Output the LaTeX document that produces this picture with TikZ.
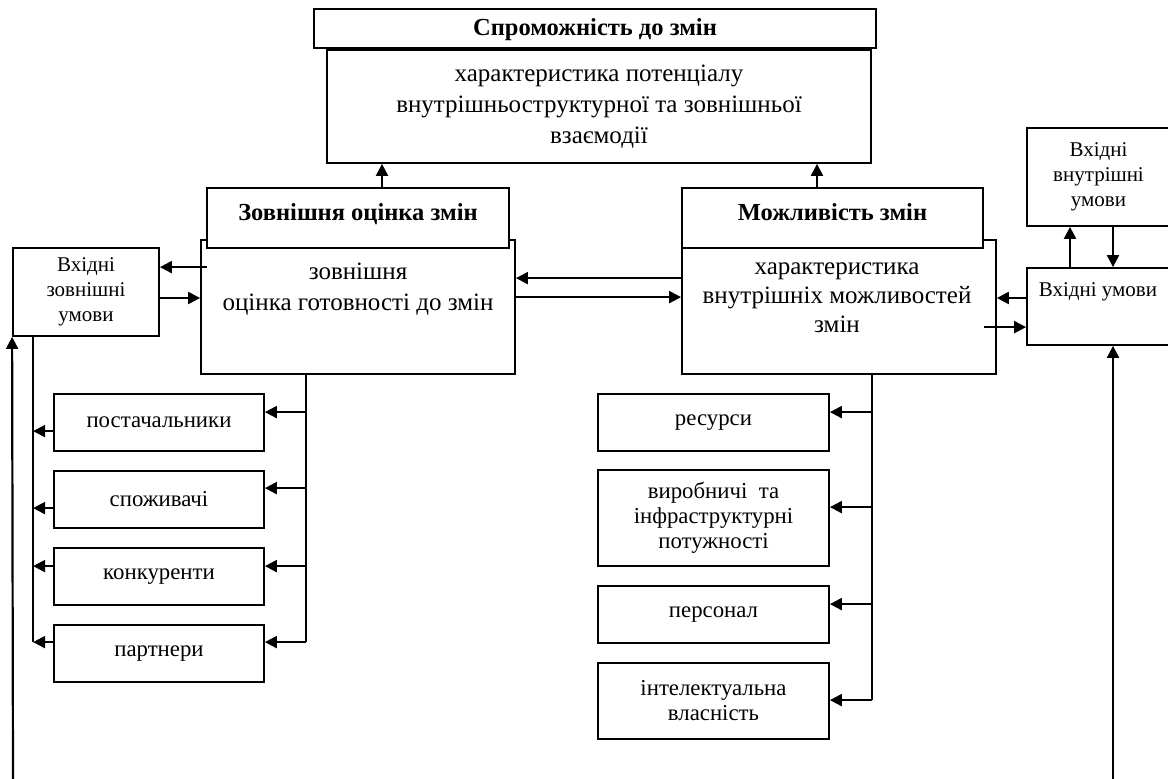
\documentclass[tikz,border=0pt]{standalone}
\usepackage{fontspec}
\setmainfont{Liberation Serif}
\usetikzlibrary{arrows.meta,calc}
\begin{document}
\begin{tikzpicture}[x=1pt,y=-1pt,
  box/.style={draw, line width=1.8pt, fill=white, inner sep=0pt, align=center},
  arr/.style={line width=2.2pt, -{Triangle[length=12pt,width=12pt]}},
  ln/.style={line width=2.2pt},
  big/.style={font=\fontsize{25}{31}\selectfont},
  ttl/.style={font=\bfseries\fontsize{24.5}{28}\selectfont, text height=17pt, text depth=13pt},
  sml/.style={font=\fontsize{21}{25}\selectfont},
  subt/.style={font=\fontsize{22.8}{25}\selectfont},
]
\useasboundingbox (0,0) rectangle (1168,779);

% top block
\node[box, big, minimum width=544pt, minimum height=113pt] (topB) at (599,106.5)
  {характеристика потенціалу\\внутрішньоструктурної та зовнішньої\\взаємодії};
\node[box, ttl, text depth=3pt, minimum width=562pt, minimum height=39pt] (topH) at (595,28.5) {Спроможність до змін};

% external block
\node[box, minimum width=314pt, minimum height=134pt] (extB) at (358,307) {};
\node[box, ttl, minimum width=302pt, minimum height=60pt] (extH) at (358,218) {Зовнішня оцінка змін};
\node[big, align=center, inner sep=0pt] (extT) at (358,289) {зовнішня\\оцінка готовності до змін};

% possibility block
\node[box, minimum width=314pt, minimum height=134pt] (posB) at (839,307) {};
\node[box, ttl, minimum width=301pt, minimum height=60pt] (posH) at (832.5,218) {Можливість змін};
\node[font=\fontsize{25}{29}\selectfont, align=center, inner sep=0pt] (posT) at (837,298)
  {характеристика\\внутрішніх можливостей\\змін};

% input boxes
\node[box, sml, minimum width=146pt, minimum height=88pt] (extIn) at (86,292) {Вхідні\\зовнішні\\умови};
\node[box, sml, minimum width=143pt, minimum height=98pt] (inIn) at (1098.5,177) {Вхідні\\внутрішні\\умови};
\node[box, minimum width=143pt, minimum height=77pt] (inC) at (1098.5,306.5) {};
\node[sml, inner sep=0pt] (inCT) at (1098,292) {Вхідні умови};

% left sub boxes
\node[box, subt, minimum width=210pt, minimum height=57pt] (L1) at (159,422.5) {постачальники};
\node[box, subt, minimum width=210pt, minimum height=57pt] (L2) at (159,499.5) {споживачі};
\node[box, subt, minimum width=210pt, minimum height=57pt] (L3) at (159,576.5) {конкуренти};
\node[box, subt, minimum width=210pt, minimum height=57pt] (L4) at (159,653.5) {партнери};

% right sub boxes
\node[box, subt, minimum width=231pt, minimum height=57pt] (R1) at (713.5,422.5) {ресурси};
\node[box, subt, minimum width=231pt, minimum height=96pt] (R2) at (713.5,518) {виробничі~ та\\інфраструктурні\\потужності};
\node[box, subt, minimum width=231pt, minimum height=57pt] (R3) at (713.5,614.5) {персонал};
\node[box, subt, minimum width=231pt, minimum height=76pt] (R4) at (713.5,701) {інтелектуальна\\власність};

% coordinates
\coordinate (a1) at ([shift={(24,0)}]extH.north);
\coordinate (a2) at ([shift={(-15.5,0)}]posH.north);
\coordinate (e1) at ([shift={(7,28)}]extB.north west);
\coordinate (e2) at ([shift={(0,6)}]extIn.east);
\coordinate (m1) at ([shift={(0,39)}]posB.north west);
\coordinate (m2) at ([shift={(0,58)}]extB.north east);
\coordinate (r1) at ([shift={(0,-8.5)}]inC.west);
\coordinate (r2) at ([shift={(-13,88)}]posB.north east);
\coordinate (r3) at ([shift={(-28.5,0)}]inC.north);
\coordinate (r4) at ([shift={(14.5,0)}]inIn.south);
\coordinate (b1) at (13,779);
\coordinate (b2) at (1113,779);
\coordinate (lb) at ([shift={(21,0)}]extIn.south west);
\coordinate (rb) at ([shift={(-52,0)}]extB.south);
\coordinate (pb) at ([shift={(33,0)}]posB.south);
\coordinate (l1) at ([shift={(0,38)}]L1.north west);
\coordinate (l2) at ([shift={(0,38)}]L2.north west);
\coordinate (l3) at ([shift={(0,19)}]L3.north west);
\coordinate (l4) at ([shift={(0,18)}]L4.north west);
\coordinate (q1) at ([shift={(0,19)}]L1.north east);
\coordinate (q2) at ([shift={(0,18)}]L2.north east);
\coordinate (q3) at ([shift={(0,19)}]L3.north east);
\coordinate (q4) at ([shift={(0,18)}]L4.north east);
\coordinate (p1) at ([shift={(0,19)}]R1.north east);
\coordinate (p2) at ([shift={(0,38)}]R2.north east);
\coordinate (p3) at ([shift={(0,19)}]R3.north east);
\coordinate (p4) at ([shift={(0,38)}]R4.north east);

% connectors
\draw[arr] (a1) -- (a1 |- topB.south);
\draw[arr] (a2) -- (a2 |- topB.south);
\draw[arr] (e1) -- (e1 -| extIn.east);
\draw[arr] (e2) -- (e2 -| extB.west);
\draw[arr] (m1) -- (m1 -| extB.east);
\draw[arr] (m2) -- (m2 -| posB.west);
\draw[arr] (r1) -- (r1 -| posB.east);
\draw[arr] (r2) -- (r2 -| inC.west);
\draw[arr] (r3) -- (r3 |- inIn.south);
\draw[arr] (r4) -- (r4 |- inC.north);
\draw[arr] (b2) -- (b2 |- inC.south);
\draw[arr] (b1) -- (extIn.south west);

\draw[ln] (lb) -- (lb |- l4);
\draw[arr] (l1) -- (l1 -| lb);
\draw[arr] (l2) -- (l2 -| lb);
\draw[arr] (l3) -- (l3 -| lb);
\draw[arr] (l4) -- (l4 -| lb);

\draw[ln] (rb) -- (rb |- q4);
\draw[arr] (q1 -| rb) -- (q1);
\draw[arr] (q2 -| rb) -- (q2);
\draw[arr] (q3 -| rb) -- (q3);
\draw[arr] (q4 -| rb) -- (q4);

\draw[ln] (pb) -- (pb |- p4);
\draw[arr] (p1 -| pb) -- (p1);
\draw[arr] (p2 -| pb) -- (p2);
\draw[arr] (p3 -| pb) -- (p3);
\draw[arr] (p4 -| pb) -- (p4);
\end{tikzpicture}
\end{document}
